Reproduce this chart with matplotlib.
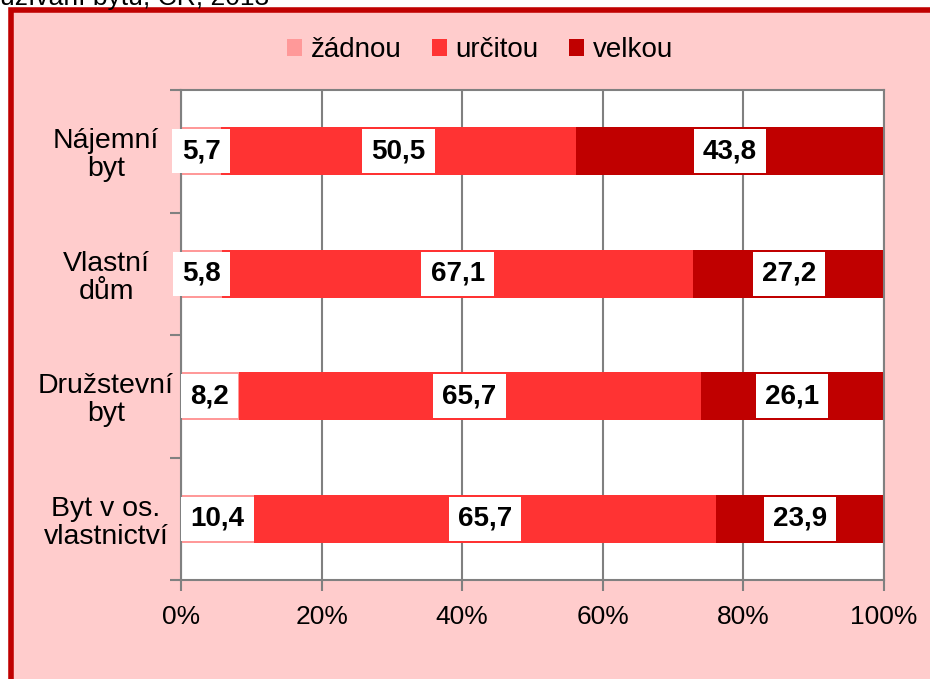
import matplotlib.pyplot as plt
from matplotlib.patches import Rectangle

plt.rcParams['font.family'] = ['Liberation Sans', 'DejaVu Sans']

categories = ['Nájemní\nbyt', 'Vlastní\ndům', 'Družstevní\nbyt', 'Byt v os.\nvlastnictví']
series = ['žádnou', 'určitou', 'velkou']
zadnou = [5.7, 5.8, 8.2, 10.4]
urcitou = [50.5, 67.1, 65.7, 65.7]
velkou = [43.8, 27.2, 26.1, 23.9]
colors = ['#FF9999', '#FF3333', '#C00000']
xticks = [0, 20, 40, 60, 80, 100]

fig = plt.figure(figsize=(9.3, 6.79), dpi=100)
fig.patch.set_facecolor('white')

# pink chart area with red frame (cropped on right/bottom)
fig.patches.append(Rectangle((10.5 / 930, -0.1), 1.2, 1 - 10.5 / 679 + 0.1,
                             transform=fig.transFigure, facecolor='#FFCCCC',
                             edgecolor='#C00000', linewidth=4, zorder=-5))
# title is cut off by the image top, as in the source
fig.text(0.0, 1 - 5 / 679, 'užívání bytu, ČR, 2013', fontsize=19, va='baseline', ha='left')

ax = fig.add_axes([181 / 930, 1 - 580 / 679, 703 / 930, 490 / 679])
ax.set_facecolor('white')

ypos = [3, 2, 1, 0]
left = [0, 0, 0, 0]
for vals, name, c in zip([zadnou, urcitou, velkou], series, colors):
    ax.barh(ypos, vals, left=left, height=0.39, color=c, label=name, zorder=2)
    for y, l, v in zip(ypos, left, vals):
        ax.text(l + v / 2, y, ('%.1f' % v).replace('.', ','), ha='center', va='center',
                fontsize=20, fontweight='bold', zorder=3,
                bbox=dict(facecolor='white', edgecolor='none', pad=6.5))
    left = [a + b for a, b in zip(left, vals)]

ax.set_xlim(0, 100)
ax.set_ylim(-0.5, 3.5)
ax.set_xticks(xticks)
ax.set_xticklabels(['%d%%' % t for t in xticks], fontsize=19)
ax.set_yticks([-0.5, 0.5, 1.5, 2.5, 3.5])
ax.set_yticklabels([])
ax.set_yticks(ypos, minor=True)
ax.set_yticklabels(categories, minor=True, fontsize=20.5, ha='center', linespacing=1.1)
ax.tick_params(axis='y', which='minor', length=0, pad=54)
ax.tick_params(axis='y', which='major', length=8, color='#808080', width=1.5)
ax.tick_params(axis='x', length=8, color='#808080', width=1.5, pad=10)
ax.grid(axis='x', color='#808080', linewidth=1.5, zorder=1)
ax.set_axisbelow(True)
for s in ax.spines.values():
    s.set_color('#808080')
    s.set_linewidth(1.5)

fig.legend(loc='center', bbox_to_anchor=(0.516, 0.926), ncol=3, frameon=False,
           fontsize=20, handlelength=0.55, handleheight=0.55, handletextpad=0.3,
           columnspacing=1.1)

fig.savefig('out.png', dpi=100)
